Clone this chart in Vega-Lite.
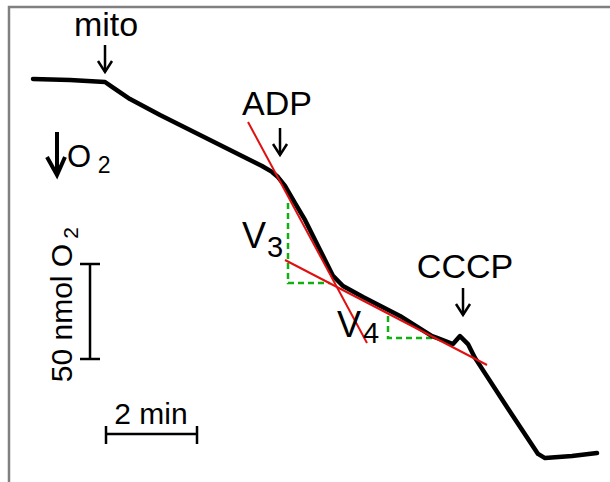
{
  "$schema": "https://vega.github.io/schema/vega-lite/v6.json",
  "width": 610,
  "height": 482,
  "autosize": "none",
  "padding": 0,
  "background": "white",
  "config": {"view": {"stroke": null}},
  "datasets": {
    "trace": [
      {"t": 0.730, "o2": 212.4}, {"t": 1.549, "o2": 211.9}, {"t": 2.324, "o2": 210.8},
      {"t": 2.479, "o2": 208.2}, {"t": 2.877, "o2": 201.8}, {"t": 3.541, "o2": 193.4},
      {"t": 4.426, "o2": 182.9}, {"t": 5.311, "o2": 172.3}, {"t": 5.798, "o2": 166.5},
      {"t": 6.020, "o2": 163.4}, {"t": 6.152, "o2": 160.7}, {"t": 6.307, "o2": 156.0},
      {"t": 6.529, "o2": 147.0}, {"t": 6.750, "o2": 138.1}, {"t": 7.082, "o2": 122.3},
      {"t": 7.370, "o2": 108.6}, {"t": 7.591, "o2": 103.3}, {"t": 8.034, "o2": 97.5},
      {"t": 8.852, "o2": 87.5}, {"t": 9.561, "o2": 76.9}, {"t": 9.671, "o2": 75.9},
      {"t": 10.025, "o2": 72.7}, {"t": 10.180, "o2": 76.9}, {"t": 10.357, "o2": 72.7},
      {"t": 10.512, "o2": 65.4}, {"t": 11.176, "o2": 41.1}, {"t": 11.907, "o2": 14.8},
      {"t": 12.062, "o2": 12.6}, {"t": 12.659, "o2": 13.7}, {"t": 13.212, "o2": 15.3}
    ],
    "fits": [
      {"fit": "V3", "t": 5.489, "o2": 189.7}, {"fit": "V3", "t": 8.122, "o2": 73.25},
      {"fit": "V4", "t": 6.307, "o2": 116.99}, {"fit": "V4", "t": 10.778, "o2": 61.66}
    ],
    "guides": [
      {"tri": "V3", "i": 1, "t": 6.374, "o2": 147.03},
      {"tri": "V3", "i": 2, "t": 6.374, "o2": 104.87},
      {"tri": "V3", "i": 3, "t": 7.303, "o2": 104.87},
      {"tri": "V4", "i": 1, "t": 8.587, "o2": 87.48},
      {"tri": "V4", "i": 2, "t": 8.587, "o2": 75.89},
      {"tri": "V4", "i": 3, "t": 9.583, "o2": 75.89}
    ],
    "arrows": [
      {"id": "mito-stem", "i": 1, "t": 2.324, "o2": 230.29},
      {"id": "mito-stem", "i": 2, "t": 2.324, "o2": 216.06},
      {"id": "mito-head", "i": 1, "t": 2.169, "o2": 221.86},
      {"id": "mito-head", "i": 2, "t": 2.324, "o2": 216.06},
      {"id": "mito-head", "i": 3, "t": 2.479, "o2": 221.86},
      {"id": "adp-stem", "i": 1, "t": 6.197, "o2": 186.55},
      {"id": "adp-stem", "i": 2, "t": 6.197, "o2": 172.32},
      {"id": "adp-head", "i": 1, "t": 6.042, "o2": 178.12},
      {"id": "adp-head", "i": 2, "t": 6.197, "o2": 172.32},
      {"id": "adp-head", "i": 3, "t": 6.352, "o2": 178.12},
      {"id": "cccp-stem", "i": 1, "t": 10.247, "o2": 102.23},
      {"id": "cccp-stem", "i": 2, "t": 10.247, "o2": 88.01},
      {"id": "cccp-head", "i": 1, "t": 10.092, "o2": 93.80},
      {"id": "cccp-head", "i": 2, "t": 10.247, "o2": 88.01},
      {"id": "cccp-head", "i": 3, "t": 10.402, "o2": 93.80}
    ],
    "bigarrow": [
      {"id": "stem", "i": 1, "t": 1.2615, "o2": 184.44},
      {"id": "stem", "i": 2, "t": 1.2615, "o2": 161.78},
      {"id": "head", "i": 1, "t": 1.040, "o2": 171.27},
      {"id": "head", "i": 2, "t": 1.2615, "o2": 161.78},
      {"id": "head", "i": 3, "t": 1.4385, "o2": 171.27}
    ],
    "bars": [
      {"id": "v", "i": 1, "t": 1.992, "o2": 114.88},
      {"id": "v", "i": 2, "t": 1.992, "o2": 64.82},
      {"id": "vcap1", "i": 1, "t": 1.770, "o2": 114.88},
      {"id": "vcap1", "i": 2, "t": 2.213, "o2": 114.88},
      {"id": "vcap2", "i": 1, "t": 1.770, "o2": 64.82},
      {"id": "vcap2", "i": 2, "t": 2.213, "o2": 64.82},
      {"id": "h", "i": 1, "t": 2.346, "o2": 25.30},
      {"id": "h", "i": 2, "t": 4.360, "o2": 25.30},
      {"id": "hcap1", "i": 1, "t": 2.346, "o2": 29.51},
      {"id": "hcap1", "i": 2, "t": 2.346, "o2": 20.03},
      {"id": "hcap2", "i": 1, "t": 4.360, "o2": 29.51},
      {"id": "hcap2", "i": 2, "t": 4.360, "o2": 20.03}
    ],
    "frame": [
      {"i": 1, "t": 0.199, "o2": 0},
      {"i": 2, "t": 0.199, "o2": 250.32},
      {"i": 3, "t": 13.5, "o2": 250.32}
    ],
    "labels": [
      {"kind": "big", "label": "mito", "t": 2.346, "o2": 235.29},
      {"kind": "big", "label": "ADP", "t": 6.130, "o2": 193.40},
      {"kind": "big", "label": "CCCP", "t": 10.291, "o2": 107.50},
      {"kind": "V", "label": "V", "t": 5.621, "o2": 123.31},
      {"kind": "V", "label": "V", "t": 7.724, "o2": 76.41},
      {"kind": "vsub", "label": "3", "t": 6.086, "o2": 118.57},
      {"kind": "vsub", "label": "4", "t": 8.211, "o2": 73.25},
      {"kind": "O", "label": "O", "t": 1.748, "o2": 166.0},
      {"kind": "osub", "label": "2", "t": 2.302, "o2": 162.84},
      {"kind": "min", "label": "2 min", "t": 3.342, "o2": 30.56},
      {"kind": "vert", "label": "50 nmol O", "t": 1.5934, "o2": 89.06},
      {"kind": "vertsub", "label": "2", "t": 1.726, "o2": 131.22}
    ]
  },
  "encoding": {
    "x": {"field": "t", "type": "quantitative", "scale": {"domain": [0, 13.5], "nice": false, "zero": false}, "axis": null},
    "y": {"field": "o2", "type": "quantitative", "scale": {"domain": [0, 254], "nice": false, "zero": false}, "axis": null}
  },
  "layer": [
    {
      "data": {"name": "frame"},
      "mark": {"type": "line", "color": "#808080", "strokeWidth": 2.5},
      "encoding": {"order": {"field": "i", "type": "quantitative"}}
    },
    {
      "data": {"name": "guides"},
      "mark": {"type": "line", "color": "#10b010", "strokeWidth": 2.5, "strokeDash": [6, 4]},
      "encoding": {"detail": {"field": "tri"}, "order": {"field": "i", "type": "quantitative"}}
    },
    {
      "data": {"name": "trace"},
      "mark": {"type": "line", "color": "black", "strokeWidth": 4.5, "strokeJoin": "round", "strokeCap": "round"}
    },
    {
      "data": {"name": "fits"},
      "mark": {"type": "line", "color": "#e01010", "strokeWidth": 2},
      "encoding": {"detail": {"field": "fit"}}
    },
    {
      "data": {"name": "arrows"},
      "mark": {"type": "line", "color": "black", "strokeWidth": 2.5},
      "encoding": {"detail": {"field": "id"}, "order": {"field": "i", "type": "quantitative"}}
    },
    {
      "data": {"name": "bigarrow"},
      "mark": {"type": "line", "color": "black", "strokeWidth": 4},
      "encoding": {"detail": {"field": "id"}, "order": {"field": "i", "type": "quantitative"}}
    },
    {
      "data": {"name": "bars"},
      "mark": {"type": "line", "color": "black", "strokeWidth": 2.5},
      "encoding": {"detail": {"field": "id"}, "order": {"field": "i", "type": "quantitative"}}
    },
    {
      "data": {"name": "labels"},
      "transform": [{"filter": "datum.kind === 'big'"}],
      "mark": {"type": "text", "font": "Liberation Sans", "fontSize": 34, "align": "center", "baseline": "alphabetic", "color": "black"},
      "encoding": {"text": {"field": "label"}}
    },
    {
      "data": {"name": "labels"},
      "transform": [{"filter": "datum.kind === 'V'"}],
      "mark": {"type": "text", "font": "Liberation Sans", "fontSize": 36, "align": "center", "baseline": "alphabetic", "color": "black"},
      "encoding": {"text": {"field": "label"}}
    },
    {
      "data": {"name": "labels"},
      "transform": [{"filter": "datum.kind === 'vsub'"}],
      "mark": {"type": "text", "font": "Liberation Sans", "fontSize": 29, "align": "center", "baseline": "alphabetic", "color": "black"},
      "encoding": {"text": {"field": "label"}}
    },
    {
      "data": {"name": "labels"},
      "transform": [{"filter": "datum.kind === 'O'"}],
      "mark": {"type": "text", "font": "Liberation Sans", "fontSize": 31, "align": "center", "baseline": "alphabetic", "color": "black"},
      "encoding": {"text": {"field": "label"}}
    },
    {
      "data": {"name": "labels"},
      "transform": [{"filter": "datum.kind === 'osub'"}],
      "mark": {"type": "text", "font": "Liberation Sans", "fontSize": 23, "align": "center", "baseline": "alphabetic", "color": "black"},
      "encoding": {"text": {"field": "label"}}
    },
    {
      "data": {"name": "labels"},
      "transform": [{"filter": "datum.kind === 'min'"}],
      "mark": {"type": "text", "font": "Liberation Sans", "fontSize": 30, "align": "center", "baseline": "alphabetic", "color": "black"},
      "encoding": {"text": {"field": "label"}}
    },
    {
      "data": {"name": "labels"},
      "transform": [{"filter": "datum.kind === 'vert'"}],
      "mark": {"type": "text", "font": "Liberation Sans", "fontSize": 30, "angle": 270, "align": "center", "baseline": "alphabetic", "color": "black"},
      "encoding": {"text": {"field": "label"}}
    },
    {
      "data": {"name": "labels"},
      "transform": [{"filter": "datum.kind === 'vertsub'"}],
      "mark": {"type": "text", "font": "Liberation Sans", "fontSize": 21, "angle": 270, "align": "center", "baseline": "alphabetic", "color": "black"},
      "encoding": {"text": {"field": "label"}}
    }
  ]
}
